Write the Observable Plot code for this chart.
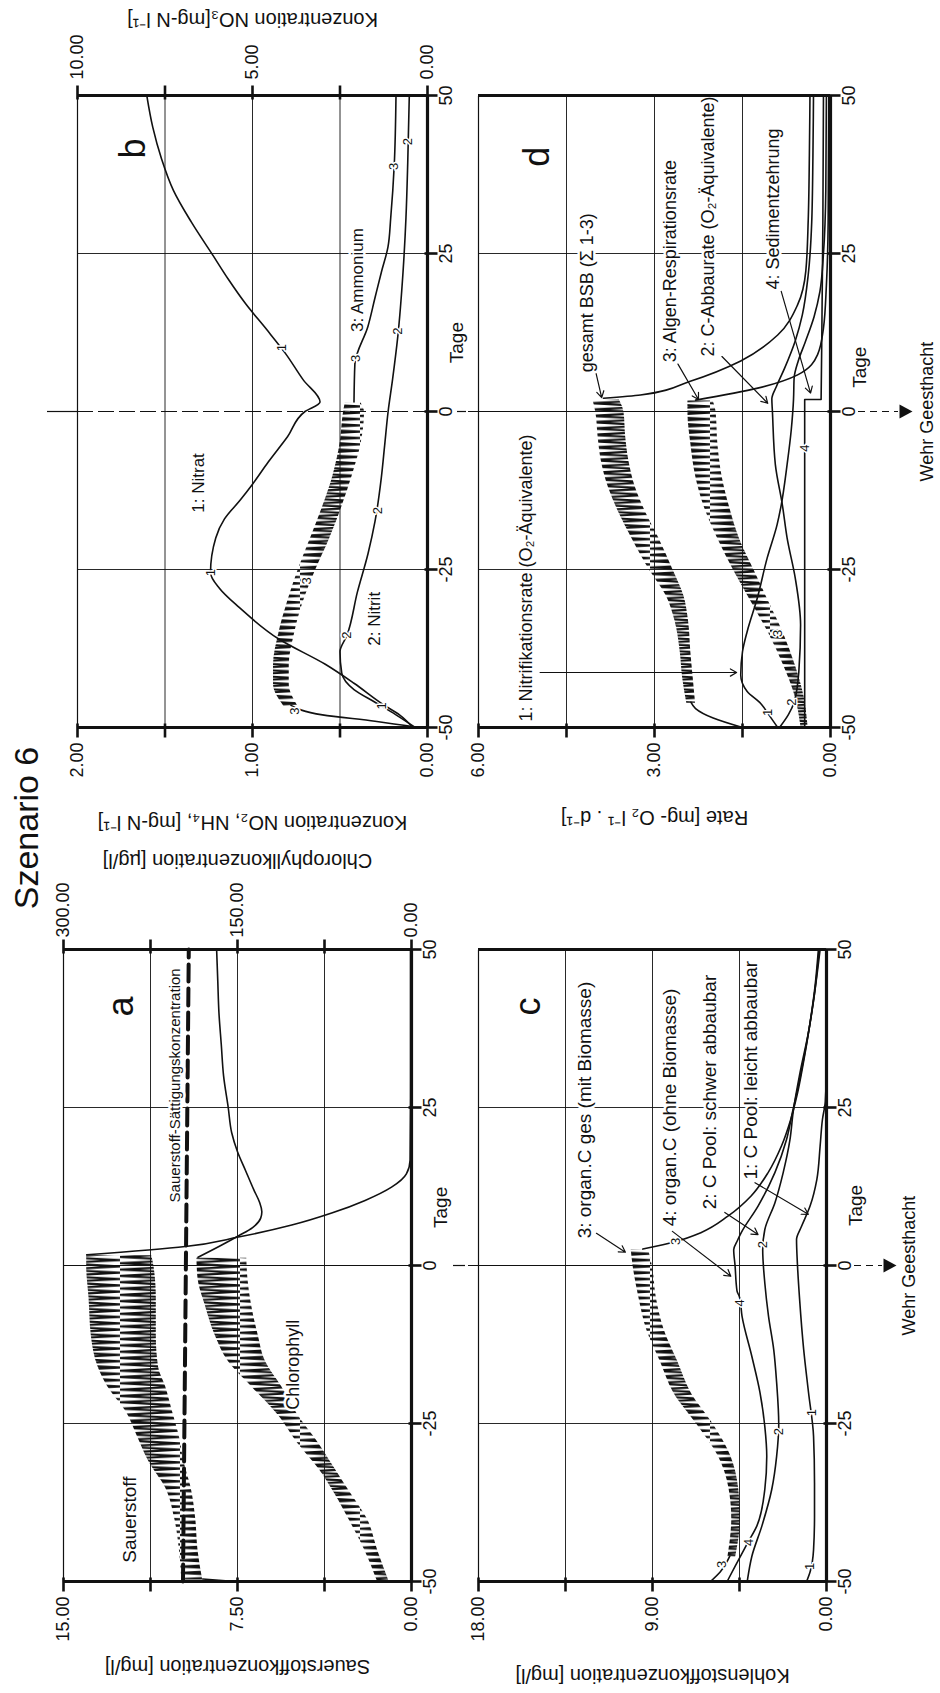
<!DOCTYPE html>
<html><head><meta charset="utf-8">
<script src="https://cdn.jsdelivr.net/npm/d3@7"></script>
<script src="https://cdn.jsdelivr.net/npm/@observablehq/plot@0.6"></script>
<style>
html,body{margin:0;padding:0;background:#fff;}
#page{position:relative;width:940px;height:1693px;overflow:hidden;background:#fff;}
#land{position:absolute;left:0;top:0;width:1693px;height:940px;transform-origin:0 0;transform:translate(0px,1693px) rotate(-90deg);}
#title{position:absolute;left:865px;top:6px;transform:translateX(-50%);font-family:"Liberation Sans",Arial,sans-serif;font-size:34px;line-height:40px;white-space:nowrap;color:#111;}
svg text{paint-order:stroke;}
</style></head>
<body>
<svg width="0" height="0" style="position:absolute">
<defs>
<pattern id="zig" patternUnits="userSpaceOnUse" width="6.32" height="60">
<path d="M0,0 L3.16,60 L6.32,0" fill="none" stroke="#111" stroke-width="2.1"/>
</pattern>
</defs></svg>
<div id="page"><div id="land"><div id="title">Szenario 6</div></div></div>
<script>
// ---------- axes ----------
const tageTicks = [-50, -25, 0, 25, 50];
const o2Ticks = [0, 3.75, 7.5, 11.25, 15];
const o2Labels = [0, 7.5, 15];
const chlLabels = [0, 150, 300];
const no2Ticks = [0, 0.5, 1, 1.5, 2];
const no2Labels = [0, 1, 2];
const no3Ticks = [0, 2.5, 5, 7.5, 10];
const no3Labels = [0, 5, 10];
const cTicks = [0, 4.5, 9, 13.5, 18];
const cLabels = [0, 9, 18];
const rTicks = [0, 1.5, 3, 4.5, 6];
const rLabels = [0, 3, 6];

// ---------- panel a: Sauerstoff [mg/l], Chlorophyll [µg/l] ----------
const o2Start = [[-50, 7.6], [-49.6, 9.0]];
const o2Band = [[-49.6, 9.9, 9.0], [-45, 10.0, 9.2], [-40, 10.2, 9.3], [-35, 10.6, 9.5], [-31, 11.3, 9.8], [-27, 11.8, 10.0], [-23, 12.3, 10.3], [-19, 13.1, 10.6], [-16, 13.5, 10.9], [-11, 13.8, 11.0], [-5, 13.9, 11.0], [0, 14.0, 11.1], [1.7, 14.0, 11.2]];
const o2After = [[1.7, 14.0], [3.0, 9.75], [4.5, 7.46], [6.4, 5.16], [8.3, 3.44], [10.3, 2.0], [12.4, 0.86], [14.5, 0.22], [16.7, 0.06], [30, 0.04], [50, 0.04]];
const o2Sat = [[-50, 9.85], [50, 9.6]];
const chlBand = [[-50, 29, 19], [-45, 40, 29], [-40, 54, 38], [-36, 66, 52], [-32, 80, 66], [-28, 98, 80], [-23.5, 115, 98], [-19, 138, 112], [-15, 158, 126], [-11, 169, 132], [-6, 178, 138], [-2, 184, 141], [1.3, 185, 142]];
const chlAfter = [[1.3, 184], [3, 166], [4.7, 149], [6, 137], [7.5, 130], [8.5, 129], [10, 131], [12, 136], [15, 143], [18, 150], [21, 155], [25, 158], [30, 162], [35, 164], [40, 166], [45, 167], [50, 168]];

// ---------- panel b: NO2, NH4 [mg-N/l] (left), NO3 [mg-N/l] (right) ----------
const nitrat = [[-50, 0.42], [-48, 0.8], [-46.5, 1.23], [-43, 2.1], [-40, 2.92], [-36, 4.25], [-31, 5.38], [-28, 5.94], [-25.5, 6.2], [-20, 6.05], [-17, 5.8], [-14, 5.35], [-11.5, 5.0], [-8, 4.55], [-4, 4.0], [0, 3.5], [1.5, 3.07], [5, 3.55], [9.2, 4.06], [13, 4.6], [17, 5.19], [21, 5.7], [24.7, 6.13], [30, 6.75], [35, 7.26], [40, 7.6], [45, 7.85], [50, 8.02]];
const nitrit = [[-50, 0.07], [-48, 0.18], [-46, 0.3], [-44, 0.42], [-41.4, 0.49], [-38, 0.5], [-35.4, 0.46], [-28.5, 0.40], [-22.5, 0.34], [-17.4, 0.30], [-10.5, 0.264], [-5.4, 0.245], [0, 0.225], [5, 0.2], [11.8, 0.17], [22, 0.14], [30.7, 0.123], [39.3, 0.113], [50, 0.104]];
const ammStart = [[-50, 0.05], [-49, 0.3], [-48, 0.6], [-46.5, 0.78]];
const ammBand = [[-46.5, 0.82, 0.74], [-43, 0.88, 0.79], [-40, 0.88, 0.79], [-35, 0.85, 0.76], [-30, 0.80, 0.71], [-25, 0.74, 0.64], [-20, 0.67, 0.56], [-15, 0.60, 0.49], [-10, 0.54, 0.43], [-5, 0.50, 0.38], [0, 0.48, 0.36], [1.5, 0.47, 0.38]];
const ammAfter = [[1.5, 0.42], [7.5, 0.415], [13.5, 0.34], [18, 0.30], [22, 0.264], [26, 0.226], [30.7, 0.21], [39, 0.19], [50, 0.18]];
const nitratMarks = [[10.1, 4.15], [-25.5, 6.2], [-46.6, 1.3]];
const nitritMarks = [[42.7, 0.11], [12.7, 0.167], [-15.7, 0.285], [-35.4, 0.46]];
const ammMarks = [[38.8, 0.19], [8.4, 0.41], [-26.8, 0.69], [-47.4, 0.76]];

// ---------- panel c: Kohlenstoff [mg/l] ----------
const cGesStart = [[-50, 6.0], [-48.5, 5.5], [-46, 5.0]];
const cGesBand = [[-46, 5.1, 4.7], [-40, 4.9, 4.45], [-35, 5.05, 4.55], [-30, 5.6, 4.95], [-25, 6.7, 5.85], [-20, 7.9, 7.0], [-15, 8.6, 7.7], [-10, 9.3, 8.4], [-5, 9.7, 8.8], [0, 10.0, 9.0], [2.6, 10.1, 9.2]];
const cGesAfter = [[2.6, 9.5], [3.8, 7.8], [5.2, 6.5], [7.8, 5.1], [11, 3.9], [14.7, 3.02], [18.9, 2.33], [23.1, 1.85], [27, 1.52], [32, 1.2], [38, 0.87], [44, 0.6], [50, 0.42]];
const cOhne = [[-50, 5.14], [-47.6, 4.73], [-44, 4.1], [-41.2, 3.6], [-35.4, 3.19], [-30.2, 3.09], [-25.5, 3.19], [-20.1, 3.44], [-14.4, 3.86], [-8, 4.37], [-5, 4.5], [-4, 4.63], [0, 4.73], [2.5, 4.8], [4, 4.6], [5.2, 4.41], [9.4, 3.54], [14.7, 2.67], [19.9, 2.07], [24.4, 1.75], [30, 1.35], [36, 0.98], [43, 0.62], [50, 0.38]];
const cSchwer = [[-50, 4.1], [-46, 3.86], [-41.2, 3.34], [-35.4, 2.83], [-30.2, 2.58], [-25.2, 2.47], [-18.5, 2.58], [-13.3, 2.73], [-8, 3.0], [-2.8, 3.19], [2.5, 3.3], [5.7, 3.19], [9.9, 2.67], [14.7, 2.24], [19.9, 1.89], [24.4, 1.72], [30.5, 1.37], [36.8, 0.94], [43.7, 0.59], [50, 0.33]];
const cLeicht = [[-50, 1.03], [-48.5, 0.85], [-45, 0.67], [-39.7, 0.62], [-34.4, 0.62], [-27, 0.67], [-20.1, 0.93], [-13.3, 1.18], [-5.4, 1.39], [0, 1.5], [4.1, 1.55], [6.2, 1.29], [9.4, 0.85], [13.6, 0.5], [18.9, 0.33], [23.1, 0.21], [26, 0.06], [30, 0.02], [50, 0.02]];
const cMarks = [[-47.3, 5.4, "3"], [3.8, 7.8, "3"], [-43.8, 4.03, "4"], [-5.9, 4.47, "4"], [-26.3, 2.48, "2"], [3.3, 3.3, "2"], [-23.3, 0.77, "1"], [-47.6, 0.87, "1"]];

// ---------- panel d: Rate [mg O2 / l / d] ----------
const bsbStart = [[-50, 1.5], [-48.5, 2.0], [-47, 2.3], [-46, 2.38]];
const bsbBand = [[-46, 2.45, 2.3], [-42, 2.52, 2.34], [-38, 2.56, 2.38], [-33, 2.65, 2.42], [-29, 2.8, 2.5], [-25, 3.08, 2.68], [-20, 3.38, 2.92], [-16, 3.6, 3.14], [-12, 3.78, 3.32], [-8, 3.9, 3.43], [-4, 3.96, 3.49], [0, 4.0, 3.52], [2, 4.05, 3.6]];
const bsbAfter = [[2.1, 3.87], [2.6, 3.24], [4.8, 2.39], [8, 1.53], [12.1, 0.9], [16.9, 0.56], [22.3, 0.42], [30.2, 0.38], [40.6, 0.36], [50, 0.35]];
const algenBand = [[-50, 0.5, 0.38], [-45, 0.6, 0.45], [-40, 0.8, 0.6], [-35, 1.05, 0.8], [-30, 1.35, 1.05], [-25, 1.65, 1.3], [-20, 1.92, 1.55], [-15, 2.15, 1.72], [-10, 2.3, 1.85], [-5, 2.38, 1.92], [0, 2.43, 1.95], [1.8, 2.43, 2.0]];
const algenAfter = [[1.8, 2.3], [3.7, 1.24], [5.8, 0.56], [9, 0.22], [13.2, 0.12], [20, 0.07], [30, 0.04], [50, 0.03]];
const nitrif = [[-50, 0.9], [-48, 1.05], [-46.2, 1.19], [-44.3, 1.42], [-41.7, 1.53], [-38, 1.5], [-34.8, 1.42], [-29.6, 1.25], [-23.2, 1.08], [-17.9, 0.91], [-14.8, 0.84], [-8.4, 0.74], [-3, 0.67], [2, 0.63], [5.3, 0.62], [8, 0.55], [11, 0.43], [15, 0.28], [19, 0.18], [25, 0.12], [35, 0.08], [50, 0.07]];
const cAbbau = [[-50, 0.87], [-48, 0.72], [-46, 0.62], [-41.2, 0.54], [-33.8, 0.51], [-26.4, 0.6], [-20, 0.74], [-14.8, 0.82], [-8.4, 0.94], [0, 0.99], [2, 1.0], [4, 0.92], [6.9, 0.78], [11.2, 0.6], [15.3, 0.48], [21.6, 0.38], [30, 0.32], [40, 0.3], [50, 0.29]];
const sediment = [[-50, 0.44], [1.9, 0.44], [1.9, 0.16], [10, 0.15], [30, 0.13], [50, 0.12]];
const dMarks = [[-47.6, 1.07, "1"], [-46, 0.66, "2"], [-35.1, 0.89, "3"], [-5.8, 0.44, "4"]];

// ---------- drawing ----------
const land = document.getElementById("land");
const INK = "#111";
const FONT = "'Liberation Sans',Arial,Helvetica,sans-serif";
const X = d => d[0], Y = d => d[1];
const fmt2 = d => d.toFixed(2);
const sym = (pts, close) => ({draw(ctx) { ctx.moveTo(pts[0][0], pts[0][1]); for (const p of pts.slice(1)) ctx.lineTo(p[0], p[1]); if (close) ctx.closePath(); }});
const TICK_L = sym([[-10, 0], [4, 0]]), TICK_R = sym([[-4, 0], [10, 0]]), TICK_B = sym([[0, -3], [0, 10]]);
const TRI = sym([[-7, -6], [7, -6], [0, 7]], true);

function line(data, f = 1, o = {}) { return Plot.line(data, {x: X, y: d => d[1] / f, stroke: INK, strokeWidth: 1.6, curve: "monotone-x", ...o}); }
function band(data, f = 1) { return Plot.areaY(data, {x: X, y1: d => d[2] / f, y2: d => d[1] / f, fill: "url(#zig)", curve: "monotone-x"}); }
function note(t, x, y, o = {}) { return Plot.text([t], {x, y, text: d => d, fontSize: 18, fontFamily: FONT, fill: INK, stroke: "white", strokeWidth: 5, ...o}); }
function nums(data, y, txt) { return Plot.text(data, {x: X, y, text: txt, fontSize: 13, fontFamily: FONT, fill: INK, stroke: "white", strokeWidth: 3}); }

function base(o) {
  const m = [
    Plot.ruleY(o.ticks.filter(v => v > 0 && v < o.ymax), {stroke: INK, strokeWidth: 0.9}),
    Plot.ruleX([-25, 25], {stroke: INK, strokeWidth: 0.9}),
    Plot.ruleY([o.ymax], {stroke: INK, strokeWidth: 1.2}),
    Plot.dot(o.ticks, {x: -50, y: d => d, symbol: TICK_L, stroke: INK, strokeWidth: 2.6, fill: "none"}),
    Plot.dot(tageTicks, {x: d => d, y: 0, symbol: TICK_B, stroke: INK, strokeWidth: 2.6, fill: "none"}),
    Plot.text(o.labels, {x: -50, y: d => d, text: fmt2, textAnchor: "end", dx: -15, fontSize: 18, fontFamily: FONT, fill: INK}),
    Plot.text(tageTicks, {x: d => d, y: 0, text: d => String(d), dy: 19, fontSize: 18, fontFamily: FONT, fill: INK}),
    Plot.text(["Tage"], {x: o.tage, y: 0, text: d => d, dy: 29, fontSize: 19, fontFamily: FONT, fill: INK}),
    Plot.text([o.leftTitle], {frameAnchor: "left", textAnchor: "middle", dx: o.leftDx, rotate: -90, text: d => d, fontSize: 20, fontFamily: FONT, fill: INK})
  ];
  if (o.right) {
    m.push(Plot.dot(o.right.ticks, {x: 50, y: d => d / o.right.f, symbol: TICK_R, stroke: INK, strokeWidth: 2.6, fill: "none"}));
    m.push(Plot.text(o.right.labels, {x: 50, y: d => d / o.right.f, text: fmt2, textAnchor: "start", dx: o.right.dx, fontSize: 18, fontFamily: FONT, fill: INK}));
    m.push(Plot.text([o.right.title], {frameAnchor: "right", textAnchor: "middle", dx: o.right.titleDx, rotate: -90, text: d => d, fontSize: 20, fontFamily: FONT, fill: INK}));
  }
  return m;
}
function frame() {
  return [
    Plot.ruleX([-50], {stroke: INK, strokeWidth: 3}),
    Plot.ruleX([50], {stroke: INK, strokeWidth: 3}),
    Plot.ruleY([0], {stroke: INK, strokeWidth: 3.2})
  ];
}
function panel(o, marks) {
  const svg = Plot.plot({
    width: o.W, height: o.H, marginLeft: o.mL, marginRight: o.mR, marginTop: o.mT, marginBottom: o.mB,
    x: {domain: [-50, 50], axis: null},
    y: {domain: [0, o.ymax], axis: null},
    style: {background: "transparent", overflow: "visible", maxWidth: "none"},
    marks: [...base(o), ...marks, ...frame()]
  });
  svg.style.position = "absolute";
  svg.style.left = o.left + "px";
  svg.style.top = o.top + "px";
  land.appendChild(svg);
}

// panel a
const CHL = 300 / 15;
panel({left: 0, top: 0, W: 860, H: 470, mL: 111, mR: 117, mT: 63, mB: 59, ymax: 15, ticks: o2Ticks, labels: o2Labels, tage: 9.2,
  leftTitle: "Sauerstoffkonzentration [mg/l]", leftDx: -85,
  right: {ticks: o2Ticks.map(v => v * CHL), labels: chlLabels, f: CHL, dx: 12, title: "Chlorophyllkonzentration [µg/l]", titleDx: 89}}, [
  Plot.ruleX([0], {stroke: INK, strokeWidth: 1.2}),
  Plot.ruleX([0], {y1: 0, y2: 0, insetTop: 42, insetBottom: -54, stroke: INK, strokeWidth: 1.2}),
  Plot.line(o2Sat, {x: X, y: Y, stroke: INK, strokeWidth: 4, strokeDasharray: "17,7"}),
  band(o2Band), line(o2Start, 1, {curve: "linear"}), line(o2After),
  band(chlBand, CHL), line(chlAfter, CHL),
  note("Sauerstoff-Sättigungskonzentration", 28.5, 10.2, {fontSize: 15}),
  note("Sauerstoff", -40.2, 12.15, {fontSize: 19}),
  note("Chlorophyll", -15.7, 5.1, {fontSize: 18}),
  Plot.text(["a"], {x: 41, y: 12.5, text: d => d, fontSize: 36, fontFamily: FONT, fill: INK})
]);

// panel b
const N3 = 10 / 2;
panel({left: 860, top: 0, W: 833, H: 470, mL: 105, mR: 96, mT: 77, mB: 43, ymax: 2, ticks: no2Ticks, labels: no2Labels, tage: 10.9,
  leftTitle: "Konzentration NO₂, NH₄, [mg-N l⁻¹]", leftDx: -95,
  right: {ticks: no3Ticks, labels: no3Labels, f: N3, dx: 16, title: "Konzentration NO₃[mg-N l⁻¹]", titleDx: 76}}, [
  Plot.ruleX([0], {stroke: INK, strokeWidth: 1.2, strokeDasharray: "16,5"}),
  Plot.ruleX([0], {y1: 2, y2: 2, insetTop: -30, insetBottom: 0, stroke: INK, strokeWidth: 1.2}),
  Plot.ruleX([0], {y1: 0, y2: 0, insetTop: 30, insetBottom: -39, stroke: INK, strokeWidth: 1.2}),
  line(nitrat, N3), line(nitrit), line(ammStart), band(ammBand), line(ammAfter),
  nums(nitratMarks, d => d[1] / N3, () => "1"),
  nums(nitritMarks, Y, () => "2"),
  nums(ammMarks, Y, () => "3"),
  note("1: Nitrat", -11.3, 1.31, {fontSize: 17}),
  note("2: Nitrit", -32.8, 0.30, {fontSize: 17}),
  note("3: Ammonium", 20.8, 0.40, {fontSize: 17}),
  Plot.text(["b"], {x: 41.6, y: 1.68, text: d => d, fontSize: 36, fontFamily: FONT, fill: INK})
]);

// panel c
panel({left: 0, top: 470, W: 860, H: 470, mL: 111, mR: 117, mT: 8, mB: 114, ymax: 18, ticks: cTicks, labels: cLabels, tage: 9.5,
  leftTitle: "Kohlenstoffkonzentration [mg/l]", leftDx: -94}, [
  Plot.ruleX([0], {stroke: INK, strokeWidth: 1.2, insetTop: -10}),
  Plot.ruleX([0], {y1: 0, y2: 0, insetTop: 28, insetBottom: -56, stroke: INK, strokeWidth: 1.2, strokeDasharray: "7,5"}),
  Plot.dot([0], {x: d => d, y: 0, dy: 63, symbol: TRI, fill: INK, stroke: "none"}),
  Plot.text(["Wehr Geesthacht"], {x: 0, y: 0, dy: 83, text: d => d, fontSize: 18, fontFamily: FONT, fill: INK}),
  line(cGesStart), band(cGesBand), line(cGesAfter),
  line(cOhne), line(cSchwer), line(cLeicht),
  nums(cMarks, Y, d => d[2]),
  Plot.arrow([[5.1, 11.9, 2.1, 10.4], [5.4, 7.97, -1.7, 4.95], [8.4, 5.26, 4.9, 3.54], [13.1, 3.7, 8.1, 0.94]], {x1: d => d[0], y1: d => d[1], x2: d => d[2], y2: d => d[3], stroke: INK, strokeWidth: 1.2, headLength: 9}),
  note("3: organ.C ges (mit Biomasse)", 4.3, 12.5, {textAnchor: "start", fontSize: 19}),
  note("4: organ.C (ohne Biomasse)", 6.2, 8.1, {textAnchor: "start", fontSize: 19}),
  note("2: C Pool: schwer abbaubar", 8.9, 6.04, {textAnchor: "start", fontSize: 19}),
  note("1: C Pool: leicht abbaubar", 13.6, 3.9, {textAnchor: "start", fontSize: 19}),
  Plot.text(["c"], {x: 41, y: 15.4, text: d => d, fontSize: 36, fontFamily: FONT, fill: INK})
]);

// panel d
panel({left: 860, top: 470, W: 833, H: 470, mL: 105, mR: 96, mT: 8, mB: 110, ymax: 6, ticks: rTicks, labels: rLabels, tage: 7,
  leftTitle: "Rate [mg- O₂ l⁻¹ . d⁻¹]", leftDx: -90}, [
  Plot.ruleX([0], {stroke: INK, strokeWidth: 1.2, insetTop: -10}),
  Plot.ruleX([0], {y1: 0, y2: 0, insetTop: 28, insetBottom: -68, stroke: INK, strokeWidth: 1.2, strokeDasharray: "7,5"}),
  Plot.dot([0], {x: d => d, y: 0, dy: 75, symbol: TRI, fill: INK, stroke: "none"}),
  Plot.text(["Wehr Geesthacht"], {x: 0, y: 0, dy: 97, text: d => d, fontSize: 18, fontFamily: FONT, fill: INK}),
  line(bsbStart), band(bsbBand), line(bsbAfter),
  band(algenBand), line(algenAfter),
  line(nitrif), line(cAbbau), line(sediment, 1, {curve: "linear"}),
  nums(dMarks, Y, d => d[2]),
  Plot.arrow([[-41.3, 4.95, -41.3, 1.6], [6.2, 4.0, 2.2, 3.9], [7.5, 2.6, 1.9, 2.25], [8.7, 1.85, 1.3, 1.07], [19.0, 0.84, 2.9, 0.34]], {x1: d => d[0], y1: d => d[1], x2: d => d[2], y2: d => d[3], stroke: INK, strokeWidth: 1.2, headLength: 9}),
  note("1: Nitrifikationsrate (O₂-Äquivalente)", -49.05, 5.18, {textAnchor: "start", fontSize: 18}),
  note("gesamt BSB (Σ 1-3)", 6.2, 4.14, {textAnchor: "start", fontSize: 18}),
  note("3: Algen-Respirationsrate", 7.8, 2.73, {textAnchor: "start", fontSize: 18}),
  note("2: C-Abbaurate (O₂-Äquivalente)", 8.7, 2.08, {textAnchor: "start", fontSize: 18}),
  note("4: Sedimentzehrung", 19.3, 0.97, {textAnchor: "start", fontSize: 18}),
  Plot.text(["d"], {x: 40.3, y: 5.0, text: d => d, fontSize: 36, fontFamily: FONT, fill: INK})
]);
</script>
</body></html>
